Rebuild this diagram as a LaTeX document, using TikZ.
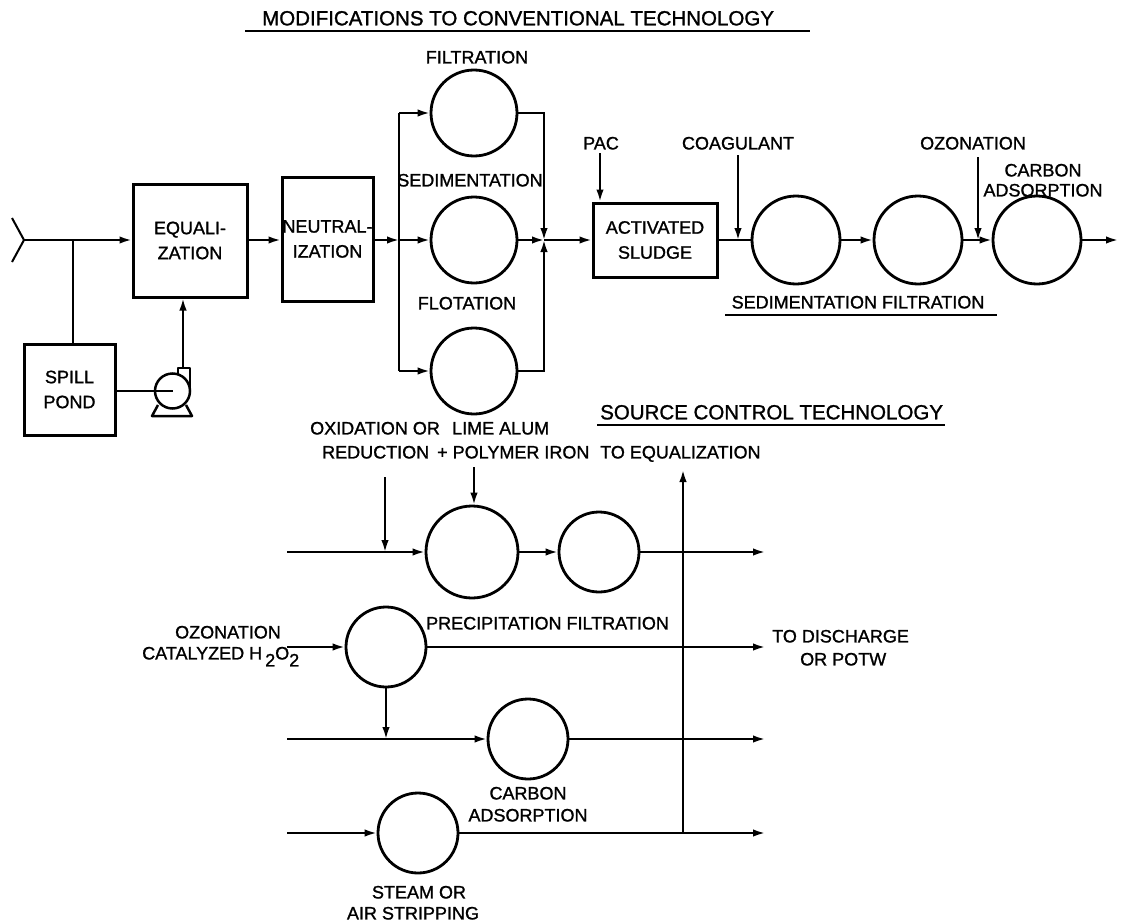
\documentclass[tikz,border=0pt]{standalone}
\usepackage{fontspec}
\setmainfont{Liberation Sans}[FakeBold=1.2]
\usetikzlibrary{arrows.meta}
\begin{document}
\begin{tikzpicture}[x=1pt,y=-1pt,
  ln/.style={line width=2pt},
  arr/.style={line width=2pt,-{Latex[length=12pt,width=7.5pt]}},
  box/.style={draw,line width=3pt,inner sep=0pt,align=center,font=\fontsize{18}{25}\selectfont},
  unit/.style={draw,circle,line width=2.8pt,inner sep=0pt},
  lbl/.style={inner sep=0pt,text height=12.9pt,text depth=0pt,font=\fontsize{18}{22}\selectfont},
  ttl/.style={inner sep=0pt,text height=14.7pt,text depth=0pt,font=\fontsize{20.5}{24}\selectfont},
  pumpline/.style={line width=2.5pt,line join=round}
]
\useasboundingbox[fill=white] (0,0) rectangle (1123,923);

% ---------- title ----------
\node[ttl,anchor=west] (title) at (262,18) {MODIFICATIONS TO CONVENTIONAL TECHNOLOGY};
\draw[ln] (245,31) -- (810,31);

% ---------- inlet ----------
\coordinate (y0) at (24,240);
\coordinate (yA) at (12,218);
\coordinate (yB) at (12,262);
\draw[ln] (yA) -- (y0) -- (yB);

% ---------- boxes ----------
\node[box,minimum width=114pt,minimum height=113pt] (eq) at (190,240.5) {EQUALI-\\ZATION};
\node[box,minimum width=91pt,minimum height=124pt] (neut) at (327.5,239) {NEUTRAL-\\IZATION};
\node[box,minimum width=91pt,minimum height=91pt] (spill) at (69.5,389.5) {SPILL\\POND};
\node[box,minimum width=124pt,minimum height=74pt] (as) at (655,240) {ACTIVATED\\SLUDGE};

% ---------- pump ----------
\node[draw,circle,line width=2.5pt,inner sep=0pt,minimum size=35pt] (pump) at (172.5,391) {};
\draw[pumpline] (178,374.5) -- (178,368) -- (190,368) -- (190,391);
\draw[pumpline] (158,405) -- (152,416) -- (192,416) -- (186,405);
\coordinate (pumpout) at (183,368);

% ---------- parallel units ----------
\node[unit,minimum size=86pt] (filtT) at (474,113) {};
\node[unit,minimum size=86pt] (sedT) at (474,240) {};
\node[unit,minimum size=86pt] (flotT) at (474,371) {};
\node[lbl] (lfilt) at (477,57) {FILTRATION};
\node[lbl] (lsed) at (470,180) {SEDIMENTATION};
\node[lbl] (lflot) at (467,303) {FLOTATION};

% ---------- right units ----------
\node[unit,minimum size=88pt] (sedR) at (796,240) {};
\node[unit,minimum size=88pt] (filtR) at (918,240) {};
\node[unit,minimum size=88pt] (carbR) at (1037,240) {};
\node[lbl] (lpac) at (601,143) {PAC};
\node[lbl] (lcoag) at (738,143) {COAGULANT};
\node[lbl] (lozon) at (973,143) {OZONATION};
\node[lbl] (lcarb1) at (1043,170) {CARBON};
\node[lbl] (lcarb2) at (1043,190) {ADSORPTION};
\node[lbl] (lsf) at (858,302) {SEDIMENTATION FILTRATION};
\draw[ln] (725,315) -- (997,315);

% ---------- connectors, top ----------
\draw[arr] (y0) -- (eq.west |- y0);
\coordinate (br) at (73,240);
\draw[ln] (br) -- (br |- spill.north);
\draw[ln] (spill.east |- pump.center) -- (pump.center);
\draw[arr] (pumpout) -- (pumpout |- eq.south);
\draw[arr] (eq.east |- y0) -- (neut.west |- y0);
\coordinate (jL) at (399,240);
\draw[arr] (neut.east |- jL) -- (jL);
\draw[ln] (jL |- filtT) -- (jL |- flotT);
\draw[arr] (jL |- filtT) -- (filtT.west);
\draw[arr] (jL) -- (sedT.west);
\draw[arr] (jL |- flotT) -- (flotT.west);
\coordinate (jR) at (544,240);
\draw[arr] (filtT.east) -- (filtT.east -| jR) -- (jR);
\draw[arr] (flotT.east) -- (flotT.east -| jR) -- (jR);
\draw[arr] (sedT.east) -- (jR);
\draw[arr] (jR) -- (as.west);
\coordinate (pac) at (600,153);
\draw[arr] (pac) -- (pac |- as.north);
\draw[ln] (as.east) -- (sedR.west);
\coordinate (coag) at (738,155);
\draw[arr] (coag) -- (coag |- as.east);
\draw[arr] (sedR.east) -- (filtR.west);
\draw[arr] (filtR.east) -- (carbR.west);
\coordinate (oz) at (978,157);
\draw[arr] (oz) -- (oz |- filtR.east);
\coordinate (out) at (1118,240);
\draw[arr] (carbR.east) -- (out);

% ---------- source control ----------
\node[ttl,anchor=west] (stitle) at (600,412) {SOURCE CONTROL TECHNOLOGY};
\draw[ln] (597,425) -- (945,425);
\node[lbl,anchor=west] (lox1) at (310,428) {OXIDATION OR};
\node[lbl,anchor=west] (llime1) at (452,428) {LIME ALUM};
\node[lbl,anchor=west] (lox2) at (322,452) {REDUCTION};
\node[lbl,anchor=west] (llime2) at (437,452) {+ POLYMER IRON};
\node[lbl,anchor=west] (lteq) at (600,452) {TO EQUALIZATION};

\node[unit,minimum size=92pt] (precip) at (472,552) {};
\node[unit,minimum size=80pt] (filt2) at (599,552) {};
\node[unit,minimum size=80pt] (ozc) at (386,647) {};
\node[unit,minimum size=80pt] (carb) at (528,739) {};
\node[unit,minimum size=80pt] (strip) at (418,833) {};

\node[lbl,anchor=west] (lpf) at (426,623) {PRECIPITATION FILTRATION};
\node[lbl] (lozc1) at (228,632) {OZONATION};
\node[lbl,anchor=west] (lozc2) at (142,653) {CATALYZED H\,\raisebox{-7pt}{2}O\raisebox{-7pt}{2}};
\node[lbl,anchor=west] (ldis1) at (772,636) {TO DISCHARGE};
\node[lbl,anchor=west] (ldis2) at (800,659) {OR POTW};
\node[lbl] (lcar1) at (528,793) {CARBON};
\node[lbl] (lcar2) at (528,815) {ADSORPTION};
\node[lbl] (lst1) at (419,892) {STEAM OR};
\node[lbl] (lst2) at (413,913) {AIR STRIPPING};

\coordinate (s1) at (287,552);
\coordinate (e1) at (765,552);
\coordinate (s2) at (287,647);
\coordinate (e2) at (765,647);
\coordinate (s3) at (287,739);
\coordinate (e3) at (765,739);
\coordinate (s4) at (287,833);
\coordinate (e4) at (765,833);
\coordinate (ox) at (385,477);
\coordinate (lime) at (474,467);
\coordinate (teq) at (683,470);

\draw[arr] (s1) -- (precip.west);
\draw[arr] (precip.east) -- (filt2.west);
\draw[arr] (filt2.east) -- (e1);
\draw[arr] (ox) -- (ox |- s1);
\draw[arr] (lime) -- (lime |- precip.north);
\draw[arr] (s2) -- (ozc.west);
\draw[arr] (ozc.east) -- (e2);
\draw[arr] (ozc.south) -- (ozc.south |- s3);
\draw[arr] (s3) -- (carb.west);
\draw[arr] (carb.east) -- (e3);
\draw[arr] (s4) -- (strip.west);
\draw[arr] (strip.east) -- (e4);
\draw[arr] (teq |- s4) -- (teq);
\end{tikzpicture}
\end{document}
